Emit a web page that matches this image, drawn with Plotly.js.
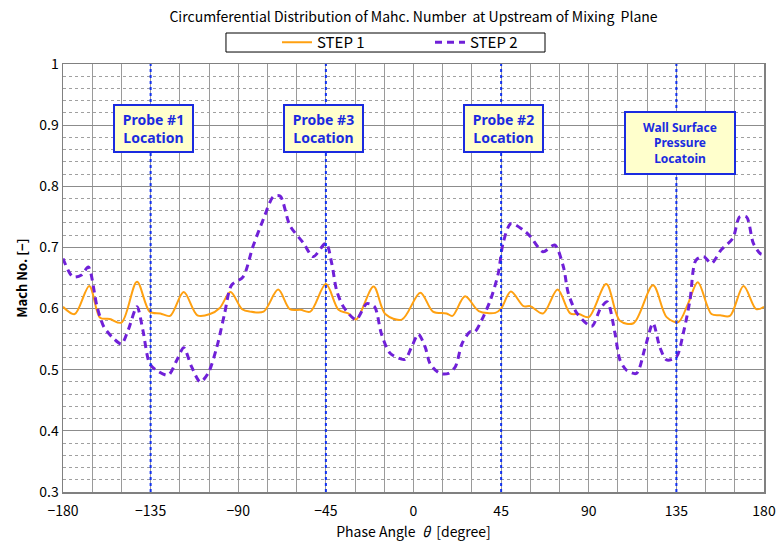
<!DOCTYPE html>
<html>
<head>
<meta charset="utf-8">
<script src="https://cdn.plot.ly/plotly-3.0.1.min.js"></script>
<style>
  html, body { margin: 0; padding: 0; background: #fff; }
  #chart { width: 779px; height: 542px; }
</style>
</head>
<body>
<div id="chart"></div>
<script>
// Phase angle (deg) and Mach number for each computation step
const step1Angle = [-180,-174,-166.5,-161,-156,-150,-142,-135.5,-130,-125,-118,-111,-104.5,-99.5,-94,-88,-84,-77,-69.5,-63.5,-58,-53,-45,-38.5,-33.5,-29.5,-20.5,-14.5,-6,3.5,10,17,20,26.5,33.5,42,45,50,56.5,60,66.5,74,80.5,85,90,99,106,113,123,130,136,141,146,153,157.5,162.5,169.5,176,180];
const step1Mach  = [0.603,0.591,0.637,0.585,0.583,0.577,0.644,0.595,0.592,0.588,0.627,0.589,0.591,0.601,0.627,0.599,0.595,0.595,0.631,0.599,0.598,0.595,0.640,0.598,0.592,0.582,0.636,0.591,0.582,0.626,0.595,0.592,0.588,0.620,0.596,0.593,0.600,0.628,0.604,0.604,0.592,0.631,0.592,0.591,0.586,0.640,0.580,0.576,0.638,0.586,0.578,0.608,0.643,0.591,0.589,0.588,0.637,0.599,0.603];

const step2Angle = [-180,-175,-170.5,-167,-162.5,-159,-154,-150,-146.5,-142,-139,-135.5,-132,-126,-121.5,-118,-114,-109.5,-105.5,-101,-97,-93.5,-87.5,-82.5,-77,-72,-68.5,-63.5,-56.5,-51.5,-45,-42,-39.5,-36,-29.5,-24,-20,-16.5,-12,-4.5,-1,2.5,6,8.5,13.5,18,21.5,25,29,31.5,35,39.5,43.5,46,50,56.5,60,66.5,72.5,77,79.5,84,91.5,96,99.5,103.5,106,109.5,114.5,119,123,126.5,130,135,138.5,142,145,149,153,158,164,167.5,171,174.5,178,180];
const step2Mach  = [0.682,0.652,0.655,0.668,0.603,0.570,0.551,0.542,0.565,0.603,0.565,0.510,0.499,0.491,0.516,0.536,0.505,0.480,0.494,0.537,0.592,0.638,0.652,0.701,0.747,0.783,0.784,0.736,0.707,0.685,0.707,0.674,0.630,0.603,0.582,0.608,0.603,0.559,0.527,0.517,0.537,0.558,0.537,0.510,0.494,0.494,0.505,0.543,0.562,0.562,0.581,0.614,0.657,0.707,0.739,0.728,0.718,0.693,0.704,0.668,0.625,0.592,0.571,0.600,0.611,0.559,0.516,0.499,0.494,0.537,0.576,0.537,0.516,0.521,0.559,0.614,0.679,0.685,0.674,0.696,0.715,0.750,0.750,0.707,0.690,0.688];

const seriesNames = ['STEP 1', 'STEP 2'];

// Probe / sensor positions and their callout labels
const markerAngles = [-135, -45, 45, 135];
const markerLabels = ['Probe #1<br>Location', 'Probe #3<br>Location', 'Probe #2<br>Location', 'Wall Surface<br>Pressure<br>Locatoin'];
const labelAngles  = [-133.5, -46, 46, 137];

const xTickVals = [-180, -135, -90, -45, 0, 45, 90, 135, 180];

const narrow = '"Liberation Sans Narrow", "Noto Sans CJK JP", "Liberation Sans", sans-serif';

const traces = [
  {
    x: step1Angle, y: step1Mach, name: seriesNames[0], type: 'scatter', mode: 'lines',
    line: { color: '#FFA010', width: 2, shape: 'spline', smoothing: 0.9 }
  },
  {
    x: step2Angle, y: step2Mach, name: seriesNames[1], type: 'scatter', mode: 'lines',
    line: { color: '#7020D8', width: 3, dash: '7px,5px', shape: 'spline', smoothing: 0.8 }
  }
];

// Dotted verticals at the probe positions
const shapes = markerAngles.map(a => ({
  type: 'line', xref: 'x', yref: 'paper', x0: a, x1: a, y0: 0, y1: 1,
  line: { color: '#1030F0', width: 2, dash: 'dot' }, layer: 'above'
}));

// Thin frame around the legend row
shapes.push({
  type: 'rect', xref: 'paper', yref: 'paper',
  x0: 0.2325, x1: 0.6876, y0: 1.028, y1: 1.0724,
  line: { color: '#000', width: 1 }, fillcolor: 'rgba(0,0,0,0)'
});

const annotations = markerLabels.map((t, i) => {
  const wall = i === 3;
  return {
    xref: 'x', yref: 'paper', x: labelAngles[i], y: wall ? 0.890 : 0.9077,
    text: '<b>' + t + '</b>', showarrow: false,
    font: { family: '"Noto Sans", "Open Sans", sans-serif', size: wall ? 12 : 14, color: '#1A2BE0' },
    bgcolor: '#FFFFCC', bordercolor: '#1A2BE0', borderwidth: 2, borderpad: 2,
    width: wall ? 104 : 73, height: wall ? 56 : 41, align: 'center', valign: 'middle'
  };
});

const layout = {
  width: 779, height: 542,
  margin: { l: 63, r: 15, t: 64, b: 50 },
  paper_bgcolor: '#fff', plot_bgcolor: '#fff',
  font: { family: narrow, size: 14, color: '#000' },
  title: {
    text: 'Circumferential Distribution of Mahc. Number\u00a0\u00a0at Upstream of Mixing\u00a0\u00a0Plane',
    font: { family: narrow, size: 14, color: '#000' },
    x: 0.5, xanchor: 'center', xref: 'paper', y: 0.968, yanchor: 'middle'
  },
  showlegend: true,
  legend: {
    orientation: 'h', xref: 'container', yref: 'container',
    x: 277 / 779, xanchor: 'left', y: 1 - 42.5 / 542, yanchor: 'middle',
    borderwidth: 0, bgcolor: 'rgba(0,0,0,0)',
    font: { family: narrow, size: 15, color: '#000' },
    entrywidth: 108, itemwidth: 30
  },
  xaxis: {
    range: [-180, 180], tickvals: xTickVals,
    ticks: 'outside', ticklen: 6, tickcolor: 'rgba(0,0,0,0)',
    showgrid: true, gridcolor: '#9a9a9a', gridwidth: 1,
    minor: { dtick: 15, tick0: 0, showgrid: true, gridcolor: '#9a9a9a', gridwidth: 1 },
    showline: true, mirror: true, linecolor: '#808080', linewidth: 1.5,
    zeroline: false, tickfont: { size: 14 },
    title: { text: 'Phase Angle\u00a0\u00a0<i>θ</i>\u00a0\u00a0[degree]', font: { size: 14 }, standoff: 8 }
  },
  yaxis: {
    range: [0.3, 1], dtick: 0.1, tick0: 0.3, ticks: '',
    showgrid: true, gridcolor: '#8c8c8c', gridwidth: 1.2,
    minor: { dtick: 0.02, tick0: 0.3, showgrid: true, gridcolor: '#a0a0a0', gridwidth: 1, griddash: 'dot' },
    showline: true, mirror: true, linecolor: '#808080', linewidth: 1.5,
    zeroline: false, tickfont: { size: 14 },
    title: { text: '<b>Mach No. [−]</b>', font: { size: 13 }, standoff: 8 }
  },
  shapes: shapes,
  annotations: annotations
};

Plotly.newPlot('chart', traces, layout, { displayModeBar: false, staticPlot: true });
</script>
</body>
</html>
